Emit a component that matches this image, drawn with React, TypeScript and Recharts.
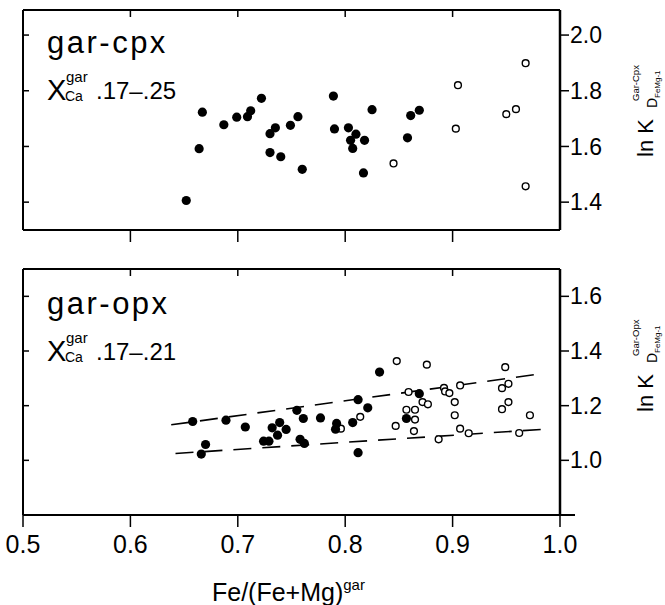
import React from "react";
import { ScatterChart, Scatter, XAxis, YAxis, ReferenceLine } from "recharts";

// Fe/(Fe+Mg)gar , ln KD
const cpxFilled: number[][] = [
    [0.652, 1.406], [0.664, 1.592], [0.667, 1.723], [0.687, 1.678], [0.699, 1.705],
    [0.709, 1.707], [0.712, 1.728], [0.722, 1.773], [0.730, 1.646], [0.735, 1.667],
    [0.730, 1.578], [0.740, 1.563], [0.749, 1.676], [0.756, 1.707], [0.760, 1.518],
    [0.789, 1.781], [0.790, 1.663], [0.803, 1.667], [0.810, 1.644], [0.805, 1.622],
    [0.807, 1.593], [0.818, 1.622], [0.817, 1.505], [0.825, 1.732], [0.858, 1.631],
    [0.861, 1.711], [0.869, 1.730]
];
const cpxOpen: number[][] = [
    [0.845, 1.539], [0.903, 1.664], [0.905, 1.820], [0.950, 1.716], [0.959, 1.734],
    [0.968, 1.899], [0.968, 1.457]
];
const opxFilled: number[][] = [
    [0.658, 1.142], [0.666, 1.023], [0.670, 1.058], [0.689, 1.147], [0.707, 1.122],
    [0.724, 1.070], [0.729, 1.070], [0.732, 1.119], [0.737, 1.092], [0.739, 1.138],
    [0.745, 1.113], [0.755, 1.183], [0.758, 1.077], [0.761, 1.153], [0.762, 1.062],
    [0.777, 1.155], [0.791, 1.114], [0.792, 1.135], [0.807, 1.138], [0.812, 1.222],
    [0.812, 1.028], [0.821, 1.192], [0.832, 1.323], [0.857, 1.153], [0.869, 1.244]
];
const opxOpen: number[][] = [
    [0.796, 1.116], [0.814, 1.159], [0.847, 1.126], [0.848, 1.363], [0.857, 1.185],
    [0.859, 1.250], [0.864, 1.107], [0.865, 1.149], [0.865, 1.185], [0.872, 1.213],
    [0.876, 1.350], [0.877, 1.205], [0.887, 1.077], [0.892, 1.265], [0.893, 1.252],
    [0.897, 1.246], [0.902, 1.213], [0.902, 1.165], [0.907, 1.274], [0.907, 1.116],
    [0.915, 1.099], [0.946, 1.264], [0.946, 1.187], [0.949, 1.341], [0.952, 1.280],
    [0.952, 1.213], [0.962, 1.100], [0.972, 1.165]
];
const opxUpperLine: number[][] = [[0.638, 1.130], [0.985, 1.318]];
const opxLowerLine: number[][] = [[0.642, 1.025], [0.990, 1.115]];

const xTicks = [0.5, 0.6, 0.7, 0.8, 0.9, 1.0];
const xInnerTicks = [0.6, 0.7, 0.8, 0.9];
const cpxTicks = [1.4, 1.6, 1.8, 2.0];
const opxTicks = [1.0, 1.2, 1.4, 1.6];

const FONT = "'Liberation Sans', Arial, sans-serif";
const toPts = (a: number[][]) => a.map(p => ({ x: p[0], y: p[1] }));
const fmt = (v: number) => v.toFixed(1);

const filledDot = (p: any) => <circle cx={p.cx} cy={p.cy} r={4.6} fill="#000" />;
const openDot = (p: any) => <circle cx={p.cx} cy={p.cy} r={3.4} fill="#fff" stroke="#000" strokeWidth={1.4} />;
const noDot = () => <g />;
const noLabel = () => <g />;

const line = { stroke: "#000", strokeWidth: 2 };
const tline = { stroke: "#000", strokeWidth: 1.5 };

function Panel(props: {
    height: number; top: number; bottomH: number; domain: number[]; yTicks: number[];
    showX: boolean; filled: number[][]; open: number[][]; lines?: number[][][];
}) {
    return (
        <ScatterChart width={665} height={props.height}
            margin={{ top: props.top, right: 0, bottom: 0, left: 23 }}>
            <XAxis xAxisId="b" type="number" dataKey="x" domain={[0.5, 1.0]}
                ticks={props.showX ? xTicks : xInnerTicks} allowDataOverflow
                height={props.bottomH} tickSize={12} tickMargin={8}
                tick={props.showX ? { fill: "#000", fontSize: 25, fontFamily: FONT } : noLabel}
                tickFormatter={fmt} axisLine={line} tickLine={tline} />
            <XAxis xAxisId="t" orientation="top" mirror type="number" dataKey="x" domain={[0.5, 1.0]}
                ticks={xInnerTicks} allowDataOverflow height={1} tickSize={7} tick={noLabel}
                axisLine={line} tickLine={tline} />
            <YAxis yAxisId="r" orientation="right" type="number" dataKey="y"
                domain={props.domain} ticks={props.yTicks} allowDataOverflow width={105}
                tickSize={9} tickMargin={1} tickFormatter={fmt}
                tick={{ fill: "#000", fontSize: 23, fontFamily: FONT }}
                axisLine={{ stroke: "#000", strokeWidth: 2.5 }} tickLine={tline} />
            <YAxis yAxisId="l" orientation="left" mirror type="number" dataKey="y" domain={props.domain}
                ticks={props.yTicks} allowDataOverflow width={1} tickSize={6} tick={noLabel}
                axisLine={line} tickLine={tline} />
            {(props.lines || []).map((seg, i) => (
                <ReferenceLine key={i} xAxisId="b" yAxisId="r"
                    segment={seg.map(p => ({ x: p[0], y: p[1] }))}
                    stroke="#000" strokeWidth={1.6} strokeDasharray="18 11" />
            ))}
            {/* binds the top and left frame axes so they get drawn */}
            <Scatter xAxisId="t" yAxisId="l" data={toPts(props.filled)} shape={noDot}
                isAnimationActive={false} />
            <Scatter xAxisId="b" yAxisId="r" data={toPts(props.open)} shape={openDot}
                isAnimationActive={false} />
            <Scatter xAxisId="b" yAxisId="r" data={toPts(props.filled)} shape={filledDot}
                isAnimationActive={false} />
        </ScatterChart>
    );
}

function PanelText(props: { y0: number; name: string; range: string; lx: number; ly: number; sup: string }) {
    const y = props.y0;
    return (
        <g fontFamily={FONT} fill="#000">
            <text x={47} y={y + 43} fontSize={31} letterSpacing={2.5}>{props.name}</text>
            <text x={47} y={y + 90} fontSize={29}>X</text>
            <text x={66} y={y + 72} fontSize={15}>gar</text>
            <text x={65} y={y + 91} fontSize={14}>Ca</text>
            <text x={96} y={y + 89} fontSize={24}>{props.range}</text>
            <g transform={`translate(${props.lx},${props.ly}) rotate(-90)`}>
                <text x={0} y={0} fontSize={22}>ln K</text>
                <text x={49} y={4} fontSize={14}>D</text>
                <text x={59} y={7} fontSize={8}>FeMg-1</text>
                <text x={56} y={-14} fontSize={9.5}>{props.sup}</text>
            </g>
        </g>
    );
}

export default function App() {
    return (
        <div style={{ position: "absolute", left: 0, top: 0, width: 665, height: 605, background: "#fff" }}>
            <div style={{ position: "absolute", left: 0, top: 0 }}>
                <Panel height={245} top={10} bottomH={15} domain={[1.3, 2.09]} yTicks={cpxTicks}
                    showX={false} filled={cpxFilled} open={cpxOpen} />
            </div>
            <div style={{ position: "absolute", left: 0, top: 250 }}>
                <Panel height={355} top={19} bottomH={90} domain={[0.8, 1.7]} yTicks={opxTicks}
                    showX={true} filled={opxFilled} open={opxOpen} lines={[opxUpperLine, opxLowerLine]} />
            </div>
            <svg width={665} height={605} style={{ position: "absolute", left: 0, top: 0, pointerEvents: "none" }}>
                <PanelText y0={10} name="gar-cpx" range=".17–.25" lx={653} ly={157} sup="Gar-Cpx" />
                <PanelText y0={271} name="gar-opx" range=".17–.21" lx={653} ly={412} sup="Gar-Opx" />
                <line x1={560} y1={515} x2={575} y2={515} stroke="#000" strokeWidth={2} />
                <text x={212} y={601} fontSize={25} fontFamily={FONT}>
                    Fe/(Fe+Mg)<tspan fontSize={15} dy={-11}>gar</tspan>
                </text>
            </svg>
        </div>
    );
}
